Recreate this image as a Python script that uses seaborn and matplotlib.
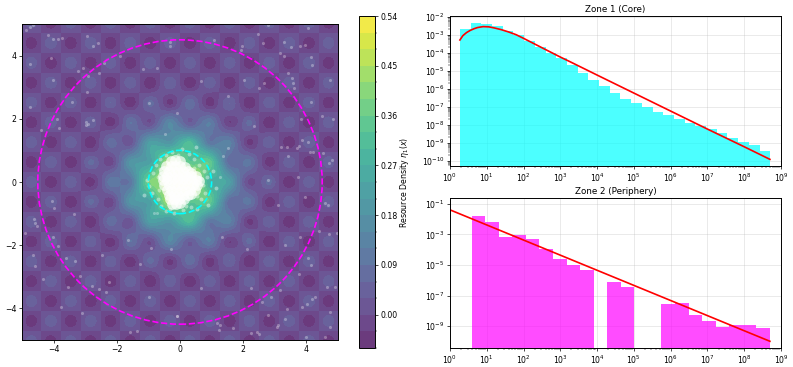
import numpy as np
import matplotlib
matplotlib.use("Agg")
import matplotlib.pyplot as plt
from matplotlib.colors import BoundaryNorm, ListedColormap, to_rgba
from matplotlib.patches import Circle
from matplotlib.ticker import LogLocator, NullFormatter
import seaborn as sns

W, H = 793, 367

# density field in hundredths, read at nodes pi/10 apart, one row per y
r0 = [0,6,0,-6,0,6,0,-5,2,11,9,10,26,39,42,44,55,56,42,27,26,22,9,-1,2,7,0,-6,0,6,0,-6,0]
r1 = [0,0,0,0,0,0,0,1,2,5,9,15,25,32,40,47,50,47,40,32,25,15,9,5,2,1,0,0,0,0,0,0,0]
r2 = [0,-6,0,6,0,-6,0,7,2,-2,8,19,21,23,35,46,42,34,35,35,21,7,8,10,2,-5,0,6,0,-6,0,6,0]
r3 = [0,0,0,0,0,0,0,0,1,3,6,10,16,24,29,32,33,32,29,24,16,10,6,3,1,0,0,0,0,0,0,0,0]
r4 = [0,6,0,-6,0,6,0,-6,1,8,4,1,12,22,21,19,26,31,21,10,12,13,4,-4,1,6,0,-6,0,6,0,-6,0]
r5 = [0,0,0,0,0,0,0,0,0,2,3,5,7,10,13,15,16,15,13,10,7,5,3,2,0,0,0,0,0,0,0,0,0]
r6 = [0,-6,0,6,0,-6,0,6,0,-5,1,9,4,0,8,15,9,3,8,12,4,-3,1,7,0,-6,0,6,0,-6,0,6,0]
r7 = [0,0,0,0,0,0,0,0,0,0,1,2,2,3,4,5,5,5,4,3,2,2,1,0,0,0,0,0,0,0,0,0,0]
r8 = [0,6,0,-6,0,6,0,-6,0,6,0,-6,1,7,2,-4,2,8,2,-5,1,6,0,-6,0,6,0,-6,0,6,0,-6,0]
r9 = [0,0,0,0,0,0,0,0,0,0,0,0,0,0,1,1,1,1,1,0,0,0,0,0,0,0,0,0,0,0,0,0,0]
r_flat = [0] * 33
r_a = [0,6,0,-6,0,6,0,-6,0,6,0,-6,0,6,0,-6,0,6,0,-6,0,6,0,-6,0,6,0,-6,0,6,0,-6,0]
r_b = [0,-6,0,6,0,-6,0,6,0,-6,0,6,0,-6,0,6,0,-6,0,6,0,-6,0,6,0,-6,0,6,0,-6,0,6,0]
field_rows = [r_a, r_flat, r_b, r_flat, r_a, r_flat, r_b, r9, r8, r7, r6, r5, r4, r3, r2, r1, r0,
              r1, r2, r3, r4, r5, r6, r7, r8, r9, r_b, r_flat, r_a, r_flat, r_b, r_flat, r_a]

# agents: the dense core, the speckle around it, the sparse periphery
core_points = [
    (-0.3,0.68),(-0.15,0.7),(0,0.66),
    (-0.45,0.5),(-0.3,0.5),(-0.15,0.5),(0,0.5),(0.15,0.48),
    (-0.5,0.35),(-0.35,0.35),(-0.2,0.35),(-0.05,0.35),(0.1,0.35),(0.25,0.35),(0.36,0.3),
    (-0.55,0.2),(-0.4,0.2),(-0.25,0.2),(-0.1,0.2),(0.05,0.2),(0.2,0.2),(0.35,0.2),(0.5,0.2),
    (-0.55,0.05),(-0.4,0.05),(-0.25,0.05),(-0.1,0.05),(0.05,0.05),(0.2,0.05),(0.35,0.05),(0.5,0.05),(0.6,0.02),
    (-0.5,-0.1),(-0.35,-0.1),(-0.2,-0.1),(-0.05,-0.1),(0.1,-0.1),(0.25,-0.1),(0.4,-0.1),(0.55,-0.1),
    (-0.42,-0.25),(-0.28,-0.25),(-0.13,-0.25),(0.02,-0.25),(0.17,-0.25),(0.32,-0.25),(0.47,-0.25),
    (-0.35,-0.4),(-0.2,-0.4),(-0.05,-0.4),(0.1,-0.4),(0.25,-0.4),(0.36,-0.38),
    (-0.32,-0.55),(-0.18,-0.55),(-0.03,-0.55),(0.12,-0.55),
    (-0.25,-0.7),(-0.12,-0.7),(0,-0.68),
]
fringe_points = [
    (-1.05,0.05),(-0.98,-0.12),(-0.9,-0.35),(-0.85,0.3),(-0.75,0.55),(-0.7,-0.55),(-0.62,0.72),
    (-0.6,-0.75),(-0.45,0.85),(-0.45,-0.92),(-0.25,0.95),(-0.2,-0.98),(0.05,1.05),(0.1,-0.9),
    (0.28,0.88),(0.35,-0.78),(0.45,0.72),(0.55,-0.85),(0.6,0.55),(0.68,-0.55),(0.75,0.35),
    (0.78,-0.35),(0.85,0.15),(0.72,-0.1),(0.65,0.1),(-0.65,-0.25),(-0.7,0.15),(-0.62,0.4),
    (0.9,-0.72),(1.05,0.35),(1.15,-0.2),(0.5,1.1),(-1.15,-0.4),(-0.05,0.85),(0.2,-0.75),
    (-0.32,-0.85),(0.45,0.45),(0.55,-0.45),
]
outer_points = [
    (-4.75,4.92),(-4.87,4.81),(-4.66,4.97),(-4.17,4.65),(-4.03,4.51),(-3.87,4.51),(-3.72,4.55),
    (-2.95,4.62),(-2.76,4.31),(-2.60,4.39),(-4.75,3.73),(-4.09,3.91),(-3.06,3.62),(-3.22,3.51),
    (-2.90,3.36),(-2.55,3.44),(-2.39,3.76),(-1.90,4.00),(-4.01,3.23),(-2.95,2.86),(-3.43,2.52),
    (-4.75,2.36),(-3.90,1.99),(-3.83,1.70),(-4.41,1.63),(-2.97,1.91),(-2.90,1.84),(-2.76,1.96),
    (-2.97,1.80),(-0.47,1.52),(-0.97,2.49),(-0.32,4.44),(-0.32,4.30),(-1.18,3.58),(-0.74,3.60),
    (-0.08,2.17),(2.77,4.97),(4.04,4.86),(2.48,4.68),(1.09,4.49),(1.95,4.31),(1.93,4.18),
    (2.62,4.41),(3.29,4.42),(3.51,4.26),(3.80,4.30),(3.94,4.34),(3.17,4.07),(3.29,4.00),
    (4.15,3.95),(4.19,3.70),(3.41,3.44),(3.56,3.30),(3.59,3.12),(3.62,2.96),(2.67,3.12),
    (2.50,2.96),(2.04,3.23),(0.66,3.21),(4.75,3.23),(1.53,2.72),(4.15,2.54),(4.48,2.10),
    (4.83,2.00),(3.83,2.00),(2.34,1.77),(3.87,1.33),(4.06,1.28),(3.75,1.14),(3.69,1.09),
    (3.20,1.12),(3.38,1.10),(4.11,0.96),(4.22,0.96),(4.54,0.93),(3.41,0.82),(4.80,0.70),
    (1.53,1.07),(1.37,0.82),(1.27,0.17),(4.72,0.59),(3.72,0.17),(2.80,0.06),
    (-4.04,-0.59),(-3.98,-0.83),(-3.37,-1.02),(-4.61,-1.18),(-4.59,-1.31),(-4.54,-1.39),
    (-4.91,-1.60),(-4.03,-1.75),(-3.87,-2.03),(-1.66,-1.84),(-0.93,-2.10),(-0.28,-2.12),
    (-4.64,-2.31),(-4.59,-2.65),(-3.61,-2.42),(-3.31,-2.50),(-2.46,-2.31),(-1.26,-2.61),
    (-4.32,-3.07),(-3.16,-2.98),(-3.53,-3.33),(-2.80,-3.28),(-2.56,-3.40),(-2.34,-3.47),
    (-2.25,-3.15),(-3.78,-3.95),(-3.09,-4.13),(-0.97,-3.63),(-0.08,-4.24),(-1.58,-4.76),
    (-1.35,-4.72),(-0.82,-0.97),(-0.72,-0.97),(3.11,-0.73),(3.94,-0.49),(4.59,-0.68),
    (4.67,-0.73),(4.40,-1.54),(4.72,-1.63),(4.98,-1.60),(1.32,-1.73),(2.11,-2.12),(3.32,-2.00),
    (3.81,-1.75),(4.06,-2.42),(4.15,-2.63),(3.78,-2.92),(3.17,-3.42),(4.64,-3.33),(4.91,-3.33),
    (0.67,-3.37),(2.25,-3.37),(2.87,-3.63),(2.58,-3.79),(4.27,-3.63),(4.19,-3.71),(4.01,-3.86),
    (3.85,-3.95),(3.38,-4.03),(4.75,-4.10),(-0.09,-4.24),(2.78,-4.21),(3.32,-4.34),(3.11,-4.53),
    (3.06,-4.58),(1.16,-4.47),(1.27,-4.53),(1.23,-4.68),(1.69,-4.61),(4.75,-4.58),(2.25,-4.77),
    (2.43,-4.74),(2.50,-4.81),(3.99,-4.90),(4.59,-4.90),
]

# histogram bin edges are log10 of the x value
core_edges = [0.27,0.561,0.852,1.143,1.434,1.725,2.016,2.307,2.598,2.889,3.18,3.471,3.762,4.053,4.344,
              4.635,4.926,5.217,5.508,5.799,6.09,6.381,6.672,6.963,7.254,7.545,7.836,8.127,8.418,8.709]
core_density = [2.1e-3,4.3e-3,3.9e-3,3.0e-3,1.66e-3,9.5e-4,4.5e-4,2.1e-4,1e-4,5e-5,2e-5,7.2e-6,3e-6,1.4e-6,
                6e-7,2.7e-7,1.66e-7,9.3e-8,5.2e-8,3.6e-8,2.1e-8,1.26e-8,8.5e-9,5.8e-9,3.3e-9,1.9e-9,
                1.15e-9,7.2e-10,3.6e-10]
core_fit_x = [1.86,2.24,2.82,3.55,4.47,5.62,7.94,11.2,15.8,25.1,39.8,63.1,100,316,1000,1820,1e4,1e5,1e6,1e7,1e8,5e8]
core_fit_y = [5.1e-4,8.9e-4,1.32e-3,1.74e-3,2.14e-3,2.51e-3,2.82e-3,2.75e-3,2.4e-3,1.9e-3,1.41e-3,1e-3,6.3e-4,
              1.9e-4,5.75e-5,3.2e-5,5.75e-6,5.75e-7,5.75e-8,5.75e-9,6e-10,1.2e-10]

periph_edges = [0.59,0.959,1.327,1.696,2.064,2.433,2.802,3.17,3.539,3.907,4.276,4.645,5.013,5.382,5.75,
                6.119,6.488,6.856,7.225,7.593,7.962,8.331,8.70]
periph_density = [1.6e-2,6.9e-3,7.2e-4,9.3e-4,5e-4,1.07e-4,2.5e-5,1e-5,4.5e-6,0,7.9e-7,3.5e-7,0,0,2.6e-8,
                  3.4e-8,5e-9,2.1e-9,8.9e-10,1.1e-9,1.1e-9,7.1e-10]
periph_fit_x = [1,10,100,1e3,1e4,1e5,1e6,1e7,1e8,5e8]
periph_fit_y = [4.1e-2,4.2e-3,4.3e-4,4.4e-5,4.5e-6,4.6e-7,4.7e-8,4.8e-9,4.9e-10,1e-10]

density_ticks = [0.00,0.09,0.18,0.27,0.36,0.45,0.54]
density_levels = np.arange(-6, 55, 3) / 100

plt.rcParams.update({"font.size": 5.6, "axes.linewidth": 0.7, "xtick.major.width": 0.5,
                     "ytick.major.width": 0.5, "xtick.minor.width": 0.35, "ytick.minor.width": 0.35,
                     "xtick.major.size": 2, "ytick.major.size": 2, "xtick.minor.size": 1.1,
                     "ytick.minor.size": 1.1, "xtick.major.pad": 1.8, "ytick.major.pad": 1.8,
                     "axes.titlesize": 6.3, "axes.titlepad": 3})


def px_axes(fig, left, top, right, bottom):
    return fig.add_axes([left / W, 1 - bottom / H, (right - left) / W, (bottom - top) / H])


def plot_field(ax, cax):
    cmap = ListedColormap(plt.get_cmap("viridis")(np.linspace(0.025, 0.975, 20)))
    norm = BoundaryNorm(density_levels, 20)
    half = 16.5 * np.pi / 10
    # catrom passes through the typed nodes, plain bicubic smooths them away
    im = ax.imshow(np.array(field_rows) / 100, extent=[-half, half, -half, half], origin="upper",
                   cmap=cmap, norm=norm, alpha=0.8, interpolation="catrom",
                   interpolation_stage="data", aspect="auto")

    core = np.array(core_points)
    sns.scatterplot(x=core[:, 0], y=core[:, 1], color="white", s=60, alpha=0.7, linewidth=0, ax=ax)
    for pts, size, a in ((fringe_points, 8, 0.4), (outer_points, 5, 0.3)):
        pts = np.array(pts)
        sns.scatterplot(x=pts[:, 0], y=pts[:, 1], color="white", s=size, alpha=a, linewidth=0, ax=ax)

    ax.add_patch(Circle((0, 0), 4.5, fill=False, color="magenta", ls="--", lw=1.2, zorder=5))
    ax.add_patch(Circle((0, 0), 1.0, fill=False, color="cyan", ls="--", lw=1.2, zorder=5))
    ax.set_xlim(-5, 5)
    ax.set_ylim(-5, 5)
    ax.set_xticks([-4, -2, 0, 2, 4])
    ax.set_yticks([-4, -2, 0, 2, 4])

    cb = ax.figure.colorbar(im, cax=cax, ticks=density_ticks, format="%.2f", spacing="proportional")
    cb.outline.set_linewidth(0.7)
    cb.set_label(r"Resource Density $\eta_1(x)$", labelpad=0)


def plot_zone(ax, edges, density, fit_x, fit_y, color, title, ylim, ydecades):
    edges = np.array(edges)
    centers = 10 ** ((edges[:-1] + edges[1:]) / 2)
    sns.histplot(x=centers, weights=density, bins=list(edges), log_scale=True, stat="count",
                 color=color, alpha=0.7, linewidth=0, ax=ax)
    for bar in ax.patches:
        bar.set_facecolor(to_rgba(color, 0.7))
    ax.set_yscale("log")
    sns.lineplot(x=fit_x, y=fit_y, color="red", linewidth=1.2, estimator=None, sort=False, ax=ax)
    ax.set_xlim(1, 1e9)
    ax.set_ylim(*ylim)
    ax.set_xticks([10.0 ** i for i in range(10)])
    ax.set_yticks([10.0 ** i for i in ydecades])
    ax.xaxis.set_minor_locator(LogLocator(base=10, subs=np.arange(2, 10) * 0.1, numticks=12))
    ax.xaxis.set_minor_formatter(NullFormatter())
    ax.yaxis.set_minor_formatter(NullFormatter())
    ax.set_xlabel("")
    ax.set_ylabel("")
    ax.set_title(title)
    ax.grid(True, which="major", color="#b0b0b0", alpha=0.3, linewidth=0.6)
    ax.set_axisbelow(True)


def main():
    fig = plt.figure(figsize=(W / 100, H / 100), dpi=100)
    ax_field = px_axes(fig, 22, 24, 338, 340)
    cax = px_axes(fig, 359, 16, 375, 348)
    ax_core = px_axes(fig, 450, 16, 781, 166)
    ax_periph = px_axes(fig, 450, 198, 781, 348)

    plot_field(ax_field, cax)
    plot_zone(ax_core, core_edges, core_density, core_fit_x, core_fit_y, "cyan", "Zone 1 (Core)",
              (10 ** -10.29, 10 ** -1.96), range(-10, -1))
    plot_zone(ax_periph, periph_edges, periph_density, periph_fit_x, periph_fit_y, "magenta",
              "Zone 2 (Periphery)", (10 ** -10.44, 10 ** -0.61), range(-9, 0, 2))

    fig.savefig("out.png", dpi=100)


if __name__ == "__main__":
    main()
